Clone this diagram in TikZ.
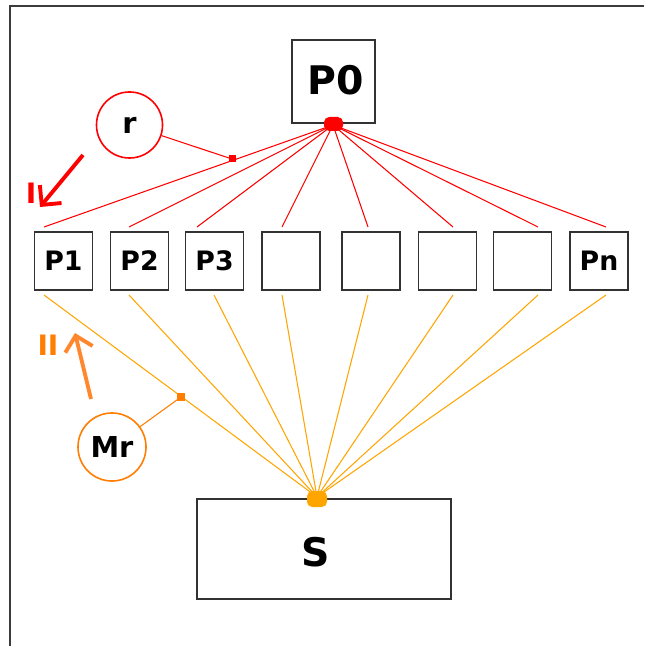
\documentclass[tikz,border=0pt]{standalone}
\usepackage{fontspec}
\setmainfont{DejaVu Sans}
\usetikzlibrary{arrows.meta,calc}
\definecolor{myred}{RGB}{255,0,0}
\definecolor{lineorange}{RGB}{255,165,0}
\definecolor{darkorange}{RGB}{255,125,0}
\definecolor{arroworange}{RGB}{255,135,45}
\definecolor{boxgray}{RGB}{50,50,50}
\definecolor{framegray}{RGB}{60,60,60}
\tikzset{
  box/.style={draw=boxgray,line width=0.45pt,minimum width=0.58cm,minimum height=0.58cm,inner sep=0pt,font=\bfseries\fontsize{7.6}{9}\selectfont},
  bigbox/.style={draw=boxgray,line width=0.45pt,inner sep=0pt},
  bigtext/.style={inner sep=0pt,font=\bfseries\fontsize{11.2}{13}\selectfont},
  redline/.style={draw=myred,line width=0.3pt},
  orangeline/.style={draw=lineorange,line width=0.3pt},
  lblcircle/.style={circle,fill=white,line width=0.45pt,inner sep=0pt,font=\bfseries\fontsize{8.2}{10}\selectfont},
  bigarrow/.style={line width=1.1pt,-{Straight Barb[length=4pt,width=8pt,line width=1.1pt]}},
  tag/.style={inner sep=0pt,font=\bfseries\fontsize{8}{10}\selectfont},
}
\begin{document}
\begin{tikzpicture}[x=0.01cm,y=-0.01cm]
\useasboundingbox (0,0) rectangle (644,646);
% frame
\draw[framegray,line width=0.45pt] (10,646) -- (10,6) -- (644,6);
% boxes
\node[bigbox,minimum width=0.83cm,minimum height=0.83cm] (P0) at (333.5,81.5) {};
\node[bigtext] (P0t) at (335.5,80) {P0};
\node[box] (P1) at (63.5,261) {P1};
\node[box] (P2) at (139.5,261) {P2};
\node[box] (P3) at (214.5,261) {P3};
\node[box] (P4) at (291,261) {};
\node[box] (P5) at (371,261) {};
\node[box] (P6) at (447.5,261) {};
\node[box] (P7) at (522.5,261) {};
\node[box] (Pn) at (599,261) {Pn};
\node[bigbox,minimum width=2.54cm,minimum height=1.0cm] (S) at (324,549) {};
\node[bigtext] (St) at (316,552) {S};
% hubs
\coordinate (hr) at (333,125);
\coordinate (ho) at (317,497);
% red line ends
\foreach \n/\x in {1/44,2/129,3/197,4/282,5/368,6/453,7/538,8/606}{
  \coordinate (t\n) at (\x,227);
}
% orange line ends
\foreach \n/\x in {1/44,2/129,3/214,4/282,5/368,6/453,7/538,8/606}{
  \coordinate (b\n) at (\x,295);
}
\foreach \n in {1,...,8}{
  \draw[redline] (hr) -- (t\n);
  \draw[orangeline] (ho) -- (b\n);
}
% hub blobs
\fill[myred,rounded corners=1.5pt] (324,117) rectangle (343,131);
\fill[lineorange,rounded corners=1.5pt] (307,491) rectangle (327,507);
% r annotation
\node[lblcircle,draw=myred,minimum size=0.66cm] (r) at (129.5,125) {r};
\coordinate (rs) at (232,159);
\fill[myred] ($(rs)+(-3.5,-3.5)$) rectangle ($(rs)+(3.5,3.5)$);
\draw[redline] (r) -- (rs);
% Mr annotation
\node[lblcircle,draw=darkorange,minimum size=0.68cm] (Mr) at (112,447) {Mr};
\coordinate (ms) at (181,397);
\fill[darkorange] ($(ms)+(-4,-4)$) rectangle ($(ms)+(4,4)$);
\draw[draw=darkorange,line width=0.3pt] (Mr) -- (ms);
% arrows
\coordinate (a1s) at (83,155);
\coordinate (a1e) at (40,207);
\draw[bigarrow,myred] (a1s) -- (a1e);
\node[tag,text=myred] (lI) at (31,193) {I};
\coordinate (a2s) at (91,399);
\coordinate (a2e) at (75,333);
\draw[bigarrow,arroworange] (a2s) -- (a2e);
\node[tag,text=darkorange] (lII) at (48,345) {II};
\end{tikzpicture}
\end{document}
